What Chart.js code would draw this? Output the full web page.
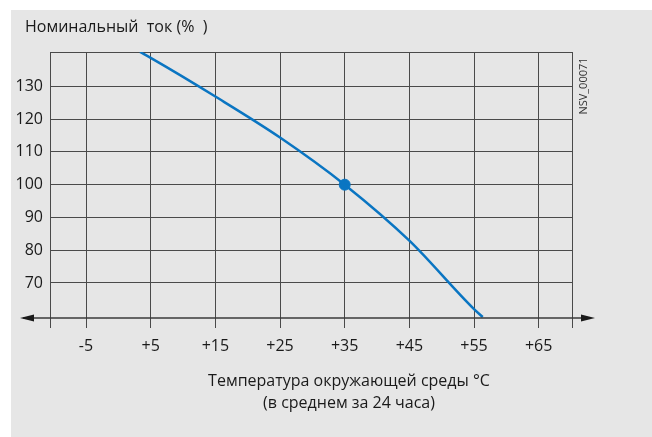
<!DOCTYPE html>
<html>
<head>
<meta charset="utf-8">
<script src="https://cdn.jsdelivr.net/npm/chart.js@4/dist/chart.umd.min.js"></script>
<style>
  html, body { margin: 0; padding: 0; background: #fff; }
  #wrap { position: absolute; left: 11px; top: 10px; width: 641px; height: 427px; background: #e6e6e6; }
</style>
</head>
<body>
<div id="wrap"><canvas id="myChart"></canvas></div>
<script>
// data
const curveX = [3.35, 5, 15, 25, 35, 45, 55, 56.35]
const curveY = [140.5, 138.7, 126.9, 114.4, 100, 82.9, 62.0, 59.6]
const markerX = [35]
const markerY = [100]
const xTickValues = [-5, 5, 15, 25, 35, 45, 55, 65]
const xTickLabels = ['-5', '+5', '+15', '+25', '+35', '+45', '+55', '+65']
const yTickValues = [70, 80, 90, 100, 110, 120, 130]
const yTickLabels = ['70', '80', '90', '100', '110', '120', '130']
const xMin = -10.57, xMax = 70.15
const yMin = 59.3, yMax = 140.5

const titleText = 'Номинальный  ток (%  )'
const xTitle = ['Температура окружающей среды °C', '(в среднем за 24 часа)']
const codeText = 'NSV_00071'

const FONT = "'Open Sans', sans-serif"
const BLUE = '#0a75c2'
const TXT = '#1a1a1a'

/////////////////////////////////////////////////////////////
// extra drawing: axis with arrows, texts
/////////////////////////////////////////////////////////////
const decor = {
    id: 'decor',
    afterDraw(chart) {
        const ctx = chart.ctx
        const area = chart.chartArea
        const yAx = area.bottom
        ctx.save()
        // x axis line with arrows
        ctx.strokeStyle = '#3a3a3a'
        ctx.lineWidth = 1.5
        ctx.beginPath()
        ctx.moveTo(12, yAx)
        ctx.lineTo(578, yAx)
        ctx.stroke()
        ctx.fillStyle = '#1a1a1a'
        ctx.beginPath()
        ctx.moveTo(9, yAx)
        ctx.lineTo(23, yAx - 3.5)
        ctx.lineTo(23, yAx + 3.5)
        ctx.closePath()
        ctx.fill()
        ctx.beginPath()
        ctx.moveTo(584, yAx)
        ctx.lineTo(570, yAx - 3.5)
        ctx.lineTo(570, yAx + 3.5)
        ctx.closePath()
        ctx.fill()

        // texts
        ctx.fillStyle = TXT
        ctx.font = '16px ' + FONT
        ctx.textBaseline = 'middle'
        ctx.textAlign = 'left'
        ctx.fillText(titleText, 14, 17)
        ctx.textAlign = 'center'
        ctx.fillText(xTitle[0], 338, 371)
        ctx.fillText(xTitle[1], 338, 393)

        ctx.font = '11px ' + FONT
        ctx.fillStyle = '#333'
        ctx.translate(573, 76)
        ctx.rotate(-Math.PI / 2)
        ctx.fillText(codeText, 0, 0)
        ctx.restore()
    }
}

const config = {
    type: 'line',
    data: {
        datasets: [{
            data: curveX.map((x, i) => ({x: x, y: curveY[i]})),
            borderColor: BLUE,
            borderWidth: 2.5,
            pointRadius: 0,
            fill: false,
            cubicInterpolationMode: 'monotone'
        }, {
            data: markerX.map((x, i) => ({x: x, y: markerY[i]})),
            showLine: false,
            pointRadius: 5.5,
            pointBackgroundColor: BLUE,
            pointBorderColor: BLUE
        }]
    },
    plugins: [decor],
    options: {
        responsive: false,
        animation: false,
        layout: {padding: {top: 42, right: 80, left: 0, bottom: 0}},
        plugins: {legend: {display: false}, tooltip: {enabled: false}},
        scales: {
            x: {
                type: 'linear',
                min: xMin,
                max: xMax,
                afterBuildTicks: s => {
                    s.ticks = [xMin, ...xTickValues, xMax].map(v => ({value: v}))
                },
                afterFit: s => { s.height = 119 },
                border: {display: false},
                grid: {color: '#4a4a4a', lineWidth: 1, drawTicks: true, tickLength: 10},
                ticks: {
                    padding: 9,
                    color: TXT,
                    font: {family: FONT, size: 16},
                    maxRotation: 0,
                    autoSkip: false,
                    callback: v => {
                        const i = xTickValues.indexOf(v)
                        return i < 0 ? '' : xTickLabels[i]
                    }
                }
            },
            y: {
                min: yMin,
                max: yMax,
                afterBuildTicks: s => {
                    s.ticks = [...yTickValues, yMax].map(v => ({value: v}))
                },
                afterFit: s => { s.width = 39 },
                border: {display: false},
                grid: {color: '#4a4a4a', lineWidth: 1, drawTicks: false},
                ticks: {
                    padding: 7,
                    color: TXT,
                    font: {family: FONT, size: 16},
                    autoSkip: false,
                    callback: v => {
                        const i = yTickValues.indexOf(v)
                        return i < 0 ? '' : yTickLabels[i]
                    }
                }
            }
        }
    }
}

const canvas = document.getElementById('myChart')
canvas.width = 641
canvas.height = 427
canvas.style.width = '641px'
canvas.style.height = '427px'

const myChart = new Chart(canvas, config)
</script>
</body>
</html>
